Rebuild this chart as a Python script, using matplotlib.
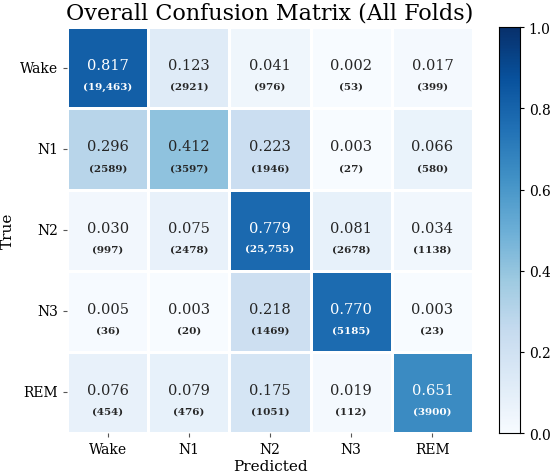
import numpy as np
import matplotlib.pyplot as plt
import seaborn as sns

labels = ["Wake", "N1", "N2", "N3", "REM"]

counts = np.array([
    [19463, 2921, 976, 53, 399],
    [2589, 3597, 1946, 27, 580],
    [997, 2478, 25755, 2678, 1138],
    [36, 20, 1469, 5185, 23],
    [454, 476, 1051, 112, 3900],
])

rates = np.array([
    [0.817, 0.123, 0.041, 0.002, 0.017],
    [0.296, 0.412, 0.223, 0.003, 0.066],
    [0.030, 0.075, 0.779, 0.081, 0.034],
    [0.005, 0.003, 0.218, 0.770, 0.003],
    [0.076, 0.079, 0.175, 0.019, 0.651],
])


def main():
    plt.rcParams['font.family'] = ['DejaVu Serif']
    fig = plt.figure(figsize=(5.5, 4.77), dpi=100)
    ax = fig.add_axes([0.122, 0.090, 0.738, 0.851])
    cax = fig.add_axes([0.907, 0.090, 0.038, 0.851])

    sns.heatmap(rates, ax=ax, cbar_ax=cax, cmap="Blues", vmin=0, vmax=1,
                linewidths=1, linecolor="white",
                xticklabels=labels, yticklabels=labels)

    for i in range(rates.shape[0]):
        for j in range(rates.shape[1]):
            color = "white" if rates[i, j] > 0.5 else "#262626"
            n = counts[i, j]
            n_txt = f"{n:,}" if n >= 10000 else str(n)
            ax.text(j + 0.5, i + 0.47, f"{rates[i, j]:.3f}", ha="center", va="center",
                    fontsize=10.5, color=color)
            ax.text(j + 0.5, i + 0.73, f"({n_txt})", ha="center", va="center",
                    fontsize=7.5, fontweight="bold", color=color)

    ax.set_title("Overall Confusion Matrix (All Folds)", fontsize=16)
    ax.set_xlabel("Predicted", fontsize=11, labelpad=2)
    ax.set_ylabel("True", fontsize=11)
    ax.tick_params(labelsize=10, length=3, color="#555555")
    plt.setp(ax.get_yticklabels(), rotation=0)
    cax.tick_params(labelsize=10, length=3)
    for s in cax.spines.values():
        s.set_visible(True)
        s.set_color("black")

    fig.savefig("out.png", dpi=100)
    plt.close()


if __name__ == "__main__":
    main()
